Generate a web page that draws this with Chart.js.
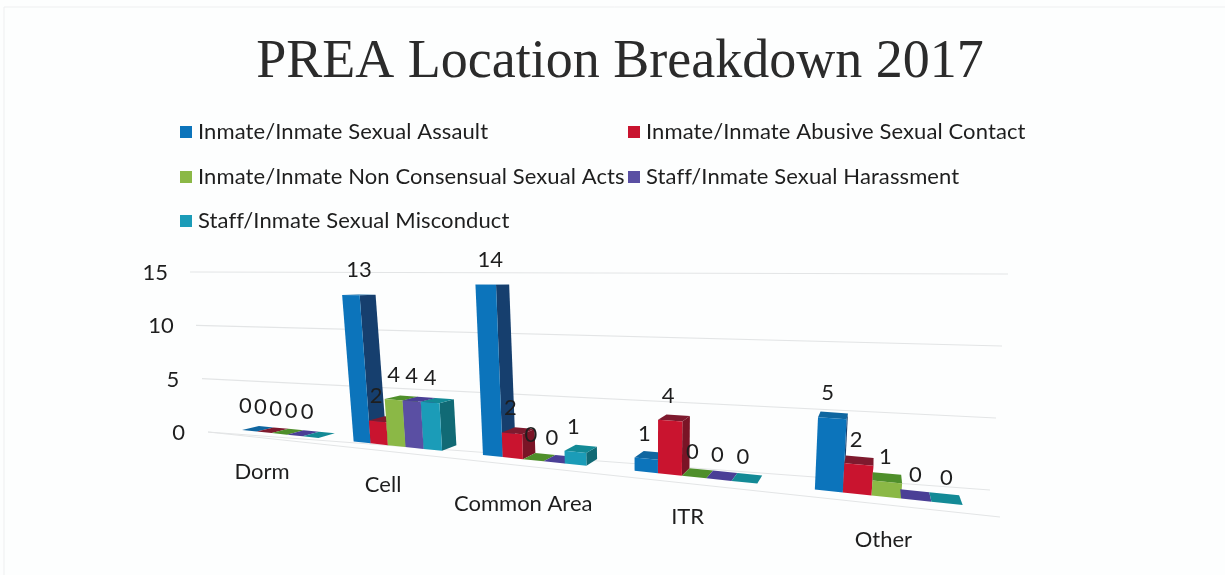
<!DOCTYPE html>
<html>
<head>
<meta charset="utf-8">
<title>PREA Location Breakdown 2017</title>
<script src="https://cdn.jsdelivr.net/npm/chart.js@4"></script>
<style>
    html, body { margin: 0; padding: 0; background: #fdfefe; }
    canvas { display: block; }
</style>
</head>
<body>
<canvas id="chart" width="1225" height="575"></canvas>
<script>
const categories = ['Dorm', 'Cell', 'Common Area', 'ITR', 'Other'];
const assault = [0, 13, 14, 1, 5];
const abusive = [0, 2, 2, 4, 2];
const nonConsensual = [0, 4, 0, 0, 1];
const harassment = [0, 4, 0, 0, 0];
const misconduct = [0, 4, 1, 0, 0];
const seriesNames = [
    'Inmate/Inmate Sexual Assault',
    'Inmate/Inmate Abusive Sexual Contact',
    'Inmate/Inmate Non Consensual Sexual Acts',
    'Staff/Inmate Sexual Harassment',
    'Staff/Inmate Sexual Misconduct'
];
const frontColors = ['#0c74bb', '#c9142f', '#8bb846', '#5a4fa3', '#1b9cb8'];
const sideColors = ['#163f6e', '#7a1426', '#4f7f2c', '#3d3478', '#116a75'];
const topColors = ['#0f66a0', '#7e1a2e', '#4f8f2b', '#4a3f96', '#138a96'];
// the category labels do not sit on a clean line in the original
const categoryNudge = [38, 39, 44, 40, 43];

const textColor = '#1e1e1e';
const textFont = '"Lato"';

// flat chart coordinates -> the tilted view of the original 3D chart
function groundX(u) { return (226.6 + 432.5 * u) / (1 - 0.339 * u); }
function groundY(x) { return 430 + 0.104 * (x - 242); }

function project(u, value) {
    const w = 1 - 0.339 * u;
    const bx = groundX(u);
    const h = value * 10.4 / w;
    return { x: bx + (bx - 650) * 0.000265 * h, y: groundY(bx) - h, u };
}

function toBack(p) {
    const d = 0.026 + 0.018 * p.u;
    return { x: p.x + (880 - p.x) * d, y: p.y + (280 - p.y) * d };
}

function face(ctx, pts, color) {
    ctx.fillStyle = color;
    ctx.beginPath();
    pts.forEach((p, i) => i ? ctx.lineTo(p.x, p.y) : ctx.moveTo(p.x, p.y));
    ctx.closePath();
    ctx.fill();
}

function drawGrid(ctx, yScale) {
    ctx.strokeStyle = '#e3e5e6';
    ctx.lineWidth = 1.2;
    yScale.ticks.forEach(t => {
        const v = t.value;
        ctx.beginPath();
        ctx.moveTo(208 - 1.2 * v, yScale.getPixelForValue(v));
        ctx.lineTo(990 + 1.2 * v, 490 - 14.4 * v);
        ctx.stroke();
    });
    ctx.beginPath();
    ctx.moveTo(208, yScale.getPixelForValue(0));
    ctx.lineTo(1000, 517);
    ctx.stroke();
}

const view3d = {
    id: 'view3d',
    beforeDatasetsDraw(chart) {
        const { ctx, chartArea, scales } = chart;
        const toU = px => (px - chartArea.left) / chartArea.width;
        ctx.save();

        // scan edge of the paper
        ctx.strokeStyle = '#eeeff0';
        ctx.lineWidth = 1;
        ctx.beginPath();
        ctx.moveTo(4, chart.height);
        ctx.lineTo(4, 7);
        ctx.lineTo(chart.width, 7);
        ctx.stroke();

        drawGrid(ctx, scales.y);

        // bars, from the elements the library laid out
        const labels = [];
        chart.data.datasets.forEach((ds, i) => {
            chart.getDatasetMeta(i).data.forEach((bar, j) => {
                const value = ds.data[j];
                const u0 = toU(bar.x - bar.width / 2);
                const u1 = toU(bar.x + bar.width / 2);
                const v = scales.y.getValueForPixel(bar.y);
                const a = project(u0, 0), b = project(u1, 0);
                const c = project(u1, v), d = project(u0, v);
                const bb = toBack(b), bc = toBack(c), bd = toBack(d);
                if (bc.x > c.x) face(ctx, [b, bb, bc, c], sideColors[i]);
                face(ctx, [d, c, bc, bd], topColors[i]);
                face(ctx, [a, b, c, d], frontColors[i]);
                const um = (u0 + u1) / 2;
                labels.push({ text: String(value), x: groundX(um) - 4 + 3.5 * um, y: project(um, v).y - 25 });
            });
        });

        ctx.fillStyle = textColor;
        ctx.textAlign = 'center';
        ctx.textBaseline = 'middle';
        ctx.font = '22px ' + textFont;
        labels.forEach(l => ctx.fillText(l.text, l.x, l.y));

        // category labels under each group
        categories.forEach((name, j) => {
            const u = toU(scales.x.getPixelForValue(j));
            const bx = groundX(u);
            ctx.fillText(name, bx - 19 + 18 * u, groundY(bx) + categoryNudge[j]);
        });

        // value axis labels follow the slanted left edge
        ctx.textAlign = 'right';
        scales.y.ticks.forEach(t => {
            ctx.fillText(t.label, 185 - 1.13 * t.value, scales.y.getPixelForValue(t.value) + 1);
        });

        // legend in the two column layout of the original
        const colX = [180, 628];
        const rowY = [132, 177, 221];
        ctx.textAlign = 'left';
        ctx.letterSpacing = '0.1px';
        chart.data.datasets.forEach((ds, i) => {
            const x = colX[i % 2], y = rowY[Math.floor(i / 2)];
            ctx.fillStyle = ds.backgroundColor;
            ctx.fillRect(x, y - 6, 12, 12);
            ctx.fillStyle = textColor;
            ctx.fillText(ds.label, x + 18, y);
        });
        ctx.letterSpacing = '0px';

        ctx.restore();
        return false;
    }
};

new Chart(document.getElementById('chart'), {
    type: 'bar',
    data: {
        labels: categories,
        datasets: [assault, abusive, nonConsensual, harassment, misconduct].map((values, i) => ({
            label: seriesNames[i],
            data: values,
            backgroundColor: frontColors[i],
            categoryPercentage: 0.7,
            barPercentage: 1
        }))
    },
    options: {
        responsive: false,
        animation: false,
        layout: { padding: { left: 208, right: 193, bottom: 143 } },
        plugins: {
            legend: { display: false },
            tooltip: { enabled: false },
            title: {
                display: true,
                text: 'PREA Location Breakdown 2017',
                color: '#2b2b2b',
                font: { family: '"Liberation Serif"', size: 54, weight: 'normal' },
                padding: { top: 30, bottom: 177.2 }
            }
        },
        scales: {
            x: { display: false },
            y: { display: false, min: 0, max: 15, ticks: { stepSize: 5 } }
        }
    },
    plugins: [view3d]
});
</script>
</body>
</html>
